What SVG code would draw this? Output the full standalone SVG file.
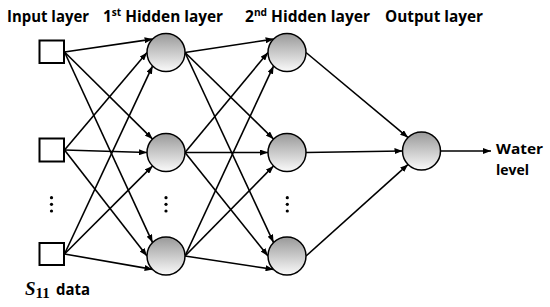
<svg xmlns="http://www.w3.org/2000/svg" width="550" height="307" viewBox="0 0 550 307">
<style>
.lbl{font-family:"Open Sans","Liberation Sans",sans-serif;font-weight:bold;font-size:16px;fill:#000}
.wl{font-size:15px}
.sup{font-size:10.5px}
.sq{fill:#fff;stroke:#000;stroke-width:2}
.nd{fill:url(#g);stroke:#000;stroke-width:1.5}
.dot{fill:#000}
.cn line{stroke:#000;stroke-width:1.6;marker-end:url(#ah)}
</style>
<defs>
<linearGradient id="g" x1="0" y1="0" x2="0" y2="1">
<stop offset="0" stop-color="#999"/>
<stop offset="1" stop-color="#fafafa"/>
</linearGradient>
<marker id="ah" viewBox="0 0 8 6" refX="8" refY="3" markerWidth="8" markerHeight="6" markerUnits="userSpaceOnUse" orient="auto">
<path d="M0,0 L8,3 L0,6 z" fill="#000"/>
</marker>
</defs>
<rect width="550" height="307" fill="#fff"/>

<g id="labels">
<text class="lbl" x="7" y="21.5" textLength="82" lengthAdjust="spacingAndGlyphs">Input layer</text>
<text class="lbl" x="103" y="21.5" textLength="120" lengthAdjust="spacingAndGlyphs">1<tspan class="sup" dy="-6">st</tspan><tspan dy="6"> Hidden layer</tspan></text>
<text class="lbl" x="245" y="21.5" textLength="125" lengthAdjust="spacingAndGlyphs">2<tspan class="sup" dy="-6">nd</tspan><tspan dy="6"> Hidden layer</tspan></text>
<text class="lbl" x="385" y="21.5" textLength="98" lengthAdjust="spacingAndGlyphs">Output layer</text>
<text class="lbl wl" x="496" y="154" textLength="47" lengthAdjust="spacingAndGlyphs">Water</text>
<text class="lbl wl" x="496" y="174.5" textLength="33" lengthAdjust="spacingAndGlyphs">level</text>
<text x="25" y="295" style="font-family:'Liberation Serif',serif;font-weight:bold;font-size:19px"><tspan font-style="italic">S</tspan><tspan font-size="15" dy="3">11</tspan></text>
<text class="lbl" x="56" y="295" textLength="34" lengthAdjust="spacingAndGlyphs">data</text>
</g>

<g id="connectors" class="cn">
<line x1="64.5" y1="52" x2="152.6" y2="39.1"/>
<line x1="64.5" y1="52" x2="152.6" y2="139.1"/>
<line x1="64.5" y1="52" x2="152.6" y2="242.6"/>
<line x1="64.5" y1="150" x2="147" y2="52.5"/>
<line x1="64.5" y1="150" x2="147" y2="152.5"/>
<line x1="64.5" y1="150" x2="147" y2="256"/>
<line x1="64.5" y1="254" x2="152.6" y2="65.9"/>
<line x1="64.5" y1="254" x2="152.6" y2="165.9"/>
<line x1="64.5" y1="254" x2="152.6" y2="269.4"/>

<line x1="185" y1="52.5" x2="273.6" y2="39.1"/>
<line x1="185" y1="52.5" x2="273.6" y2="139.1"/>
<line x1="185" y1="52.5" x2="273.6" y2="242.6"/>
<line x1="185" y1="152.5" x2="268" y2="52.5"/>
<line x1="185" y1="152.5" x2="268" y2="152.5"/>
<line x1="185" y1="152.5" x2="268" y2="256"/>
<line x1="185" y1="256" x2="273.6" y2="65.9"/>
<line x1="185" y1="256" x2="273.6" y2="165.9"/>
<line x1="185" y1="256" x2="273.6" y2="269.4"/>

<line x1="306" y1="52.5" x2="408.1" y2="137.6"/>
<line x1="306" y1="152.5" x2="402.5" y2="151"/>
<line x1="306" y1="256" x2="408.1" y2="164.4"/>

<line x1="440.5" y1="151" x2="491" y2="151"/>
</g>

<g id="in1"><rect class="sq" x="39.5" y="40.5" width="24.5" height="22.5"/></g>
<g id="in2"><rect class="sq" x="39.5" y="138.5" width="24.5" height="23"/></g>
<g id="in3"><rect class="sq" x="39.5" y="243" width="24.5" height="22"/></g>
<g id="in-dots"><circle class="dot" cx="51.5" cy="197.7" r="1.6"/><circle class="dot" cx="51.5" cy="204.3" r="1.6"/><circle class="dot" cx="51.5" cy="211" r="1.6"/></g>

<g id="h1a"><circle class="nd" cx="166" cy="52.5" r="19"/></g>
<g id="h1b"><circle class="nd" cx="166" cy="152.5" r="19"/></g>
<g id="h1c"><circle class="nd" cx="166" cy="256" r="19"/></g>
<g id="h1-dots"><circle class="dot" cx="166" cy="197.7" r="1.6"/><circle class="dot" cx="166" cy="204.3" r="1.6"/><circle class="dot" cx="166" cy="211" r="1.6"/></g>

<g id="h2a"><circle class="nd" cx="287" cy="52.5" r="19"/></g>
<g id="h2b"><circle class="nd" cx="287" cy="152.5" r="19"/></g>
<g id="h2c"><circle class="nd" cx="287" cy="256" r="19"/></g>
<g id="h2-dots"><circle class="dot" cx="287.3" cy="197.7" r="1.6"/><circle class="dot" cx="287.3" cy="204.3" r="1.6"/><circle class="dot" cx="287.3" cy="211" r="1.6"/></g>

<g id="out"><circle class="nd" cx="421.5" cy="151" r="19"/></g>
</svg>
